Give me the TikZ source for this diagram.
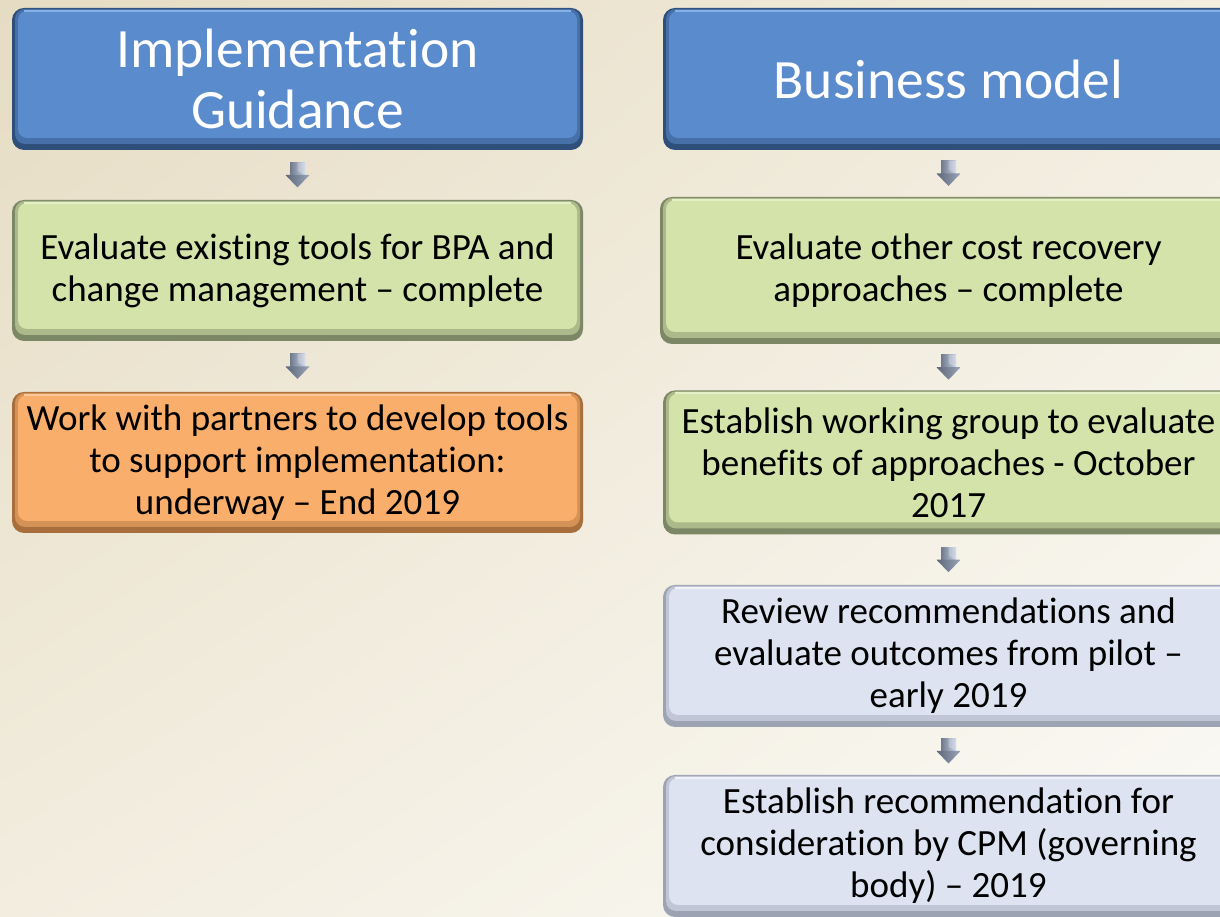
\documentclass[tikz,border=0pt]{standalone}
\usepackage{fontspec}
\setmainfont{Carlito}[Ligatures={TeX,NoCommon}]
\usetikzlibrary{calc,shadings}
\definecolor{bgA}{HTML}{E6DCC3}
\definecolor{bgB}{HTML}{FBFAF6}
\definecolor{bgM}{HTML}{F2EDDF}
\definecolor{blueM}{HTML}{5A8BCC}
\definecolor{blueD}{HTML}{2E4F7A}
\definecolor{blueH}{HTML}{86B0E6}
\definecolor{greenM}{HTML}{D3E3A9}
\definecolor{greenD}{HTML}{7C8766}
\definecolor{greenH}{HTML}{E6F0C8}
\definecolor{orM}{HTML}{FAAE6B}
\definecolor{orD}{HTML}{A86F3C}
\definecolor{orH}{HTML}{FCC899}
\definecolor{grM}{HTML}{DDE3F0}
\definecolor{grD}{HTML}{9CA3B3}
\definecolor{grH}{HTML}{F0F2F8}
\definecolor{arL}{HTML}{6F798B}
\definecolor{arR}{HTML}{C6D1E6}
\definecolor{arHL}{HTML}{5E6778}
\definecolor{arHR}{HTML}{9AA5BA}
\tikzset{
  bevbox/.style n args={3}{rounded corners=12pt, fill=#2, inner sep=0pt, align=center,
    minimum width=571pt, minimum height=142pt,
    path picture={
      \fill[#1!55!#2, rounded corners=10pt]
        ([shift={(3pt,-1pt)}]path picture bounding box.north west) rectangle
        ([shift={(-3pt,6pt)}]path picture bounding box.south east);
      \fill[#1, rounded corners=9pt]
        ([shift={(6pt,-3pt)}]path picture bounding box.north west) rectangle
        ([shift={(-6pt,12pt)}]path picture bounding box.south east);
      \draw[#3, line width=2pt]
        ([shift={(12pt,-3pt)}]path picture bounding box.north west) --
        ([shift={(-12pt,-3pt)}]path picture bounding box.north east);
    }},
  titlebox/.style={bevbox={blueM}{blueD}{blueH}, text=white, font=\fontsize{55.5}{61}\selectfont},
  donebox/.style={bevbox={greenM}{greenD}{greenH}, text=black, font=\fontsize{37}{42}\selectfont},
  workbox/.style={bevbox={orM}{orD}{orH}, text=black, font=\fontsize{37}{42}\selectfont},
  planbox/.style={bevbox={grM}{grD}{grH}, text=black, font=\fontsize{37}{42}\selectfont},
  darrow/.pic={
    \shade[left color=arL, right color=arR] (-7.5,12.5) -- (7.5,12.5) -- (7.5,0) -- (-7.5,0) -- cycle;
    \shade[left color=arHL, right color=arHR] (-12,0) -- (12,0) -- (0,-12.5) -- cycle;
    \fill[white, opacity=0.25] (0,12.5) -- (7.5,12.5) -- (7.5,0) -- (0,4) -- cycle;
  }
}
\begin{document}
\begin{tikzpicture}[x=1pt,y=1pt]
\useasboundingbox (0,0) rectangle (1220,917);
\clip (0,0) rectangle (1220,917);
\shade[upper left=bgA, lower right=bgB, upper right=bgM, lower left=bgM] (0,0) rectangle (1220,917);

\node[titlebox] (L1) at (297.5,838) {Implementation\\Guidance};
\node[donebox, minimum height=141pt] (L2) at (297.5,646.5) {Evaluate existing tools for BPA and\\change management – complete};
\node[workbox, minimum height=141pt] (L3) at (297.5,454.5) {Work with partners to develop tools\\to support implementation:\\underway – End 2019};

\node[titlebox] (R1) at (948.5,838) {Business model};
\node[donebox, minimum width=577pt, minimum height=147pt] (R2) at (948.5,646.5) {Evaluate other cost recovery\\approaches – complete};
\node[donebox, minimum height=144pt] (R3) at (948.5,454.5) {Establish working group to evaluate\\benefits of approaches - October\\2017};
\node[planbox] (R4) at (948.5,261) {Review recommendations and\\evaluate outcomes from pilot –\\early 2019};
\node[planbox] (R5) at (948.5,71) {Establish recommendation for\\consideration by CPM (governing\\body) – 2019};

\path ($(L1.south)!0.5!(L2.north)$) coordinate (a1) pic {darrow};
\path ($(L2.south)!0.5!(L3.north)$) coordinate (a2) pic {darrow};
\path ($(R1.south)!0.5!(R2.north)$) coordinate (b1) pic {darrow};
\path ($(R2.south)!0.5!(R3.north)$) coordinate (b2) pic {darrow};
\path ($(R3.south)!0.5!(R4.north)$) coordinate (b3) pic {darrow};
\path ($(R4.south)!0.5!(R5.north)$) coordinate (b4) pic {darrow};
\end{tikzpicture}
\end{document}
